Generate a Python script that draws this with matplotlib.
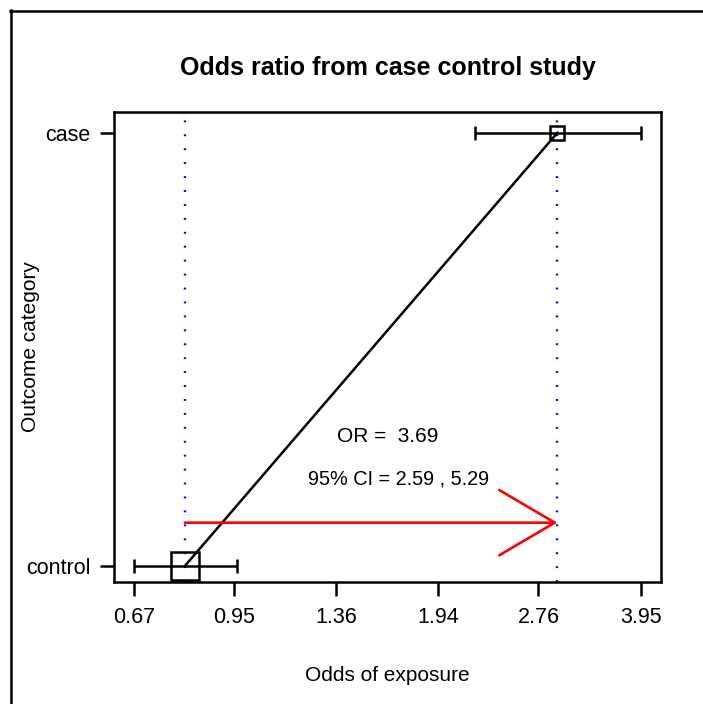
import numpy as np
import matplotlib
matplotlib.use("Agg")
import matplotlib.pyplot as plt
from matplotlib.lines import Line2D

plt.rcParams['font.family'] = ['Liberation Sans', 'DejaVu Sans']

outcomes = ['control', 'case']
odds = [0.80, 2.95]
ci_lower = [0.67, 2.21]
ci_upper = [0.96, 3.95]
marker_sizes = [20, 10]
tick_values = [0.67, 0.95, 1.36, 1.94, 2.76, 3.95]
tick_labels = ['0.67', '0.95', '1.36', '1.94', '2.76', '3.95']
or_text = 'OR =  3.69'
ci_text = '95% CI = 2.59 , 5.29'

LW = 1.8

fig = plt.figure(figsize=(7.03, 7.04), dpi=100)
ax = fig.add_axes([114/703, 1-582/704, 547/703, 470/704])

ypos = np.arange(len(outcomes))

# blue dotted reference lines
for x in odds:
    ax.axvline(x, color='blue', lw=1.7, linestyle=(0, (0.8, 5.1)), zorder=1)

# connecting line
ax.plot(odds, ypos, color='black', lw=LW, zorder=3)

# error bars
ax.errorbar(odds, ypos,
            xerr=[np.array(odds) - np.array(ci_lower), np.array(ci_upper) - np.array(odds)],
            fmt='none', ecolor='black', elinewidth=LW, capsize=5, capthick=LW, zorder=3)

# squares
for x, y, s in zip(odds, ypos, marker_sizes):
    ax.plot([x], [y], marker='s', markersize=s, markerfacecolor='none',
            markeredgecolor='black', markeredgewidth=LW, linestyle='none', zorder=4)

# arrow
ax.annotate('', xy=(odds[1], 0.1), xytext=(odds[0], 0.1),
            arrowprops=dict(arrowstyle='->,head_length=4.0,head_width=2.35',
                            color='red', lw=1.9, mutation_scale=10,
                            shrinkA=0, shrinkB=0), zorder=5)

ax.set_xscale('log')
lo, hi = np.log(tick_values[0]), np.log(tick_values[-1])
pad = 0.04 * (hi - lo)
ax.set_xlim(np.exp(lo - pad), np.exp(hi + pad))
ax.set_ylim(-0.037, 1.048)

xmid = np.exp((lo + hi) / 2)
ax.text(xmid, 0.3, or_text, ha='center', va='center', fontsize=15)
ax.annotate(ci_text, xy=(xmid, 0.2), xytext=(8.0, 0), textcoords='offset points',
            ha='center', va='center', fontsize=14.3)

ax.set_xticks(tick_values)
ax.set_xticklabels(tick_labels)
ax.xaxis.set_minor_locator(matplotlib.ticker.NullLocator())
ax.set_yticks(ypos)
ax.set_yticklabels(outcomes)
ax.tick_params(axis='both', direction='out', length=10, width=LW, labelsize=15.5)
ax.tick_params(axis='x', pad=8)
ax.tick_params(axis='y', pad=7)
for sp in ax.spines.values():
    sp.set_linewidth(LW)

ax.set_xlabel('Odds of exposure', fontsize=15)
ax.xaxis.set_label_coords(0.5, (582-666)/470)
ax.set_ylabel('Outcome category', fontsize=15)
ax.yaxis.set_label_coords((40-114)/547, 0.5)
ax.set_title('Odds ratio from case control study', fontsize=18, fontweight='bold',
             y=(582-68)/470, va='center', pad=0)

# figure frame (left and top)
fig.add_artist(Line2D([10.5/703, 10.5/703], [0, 1-10/704], color='black', lw=LW,
                      transform=fig.transFigure))
fig.add_artist(Line2D([10/703, 1], [1-10.5/704, 1-10.5/704], color='black', lw=LW,
                      transform=fig.transFigure))

fig.savefig('out.png', dpi=100)
